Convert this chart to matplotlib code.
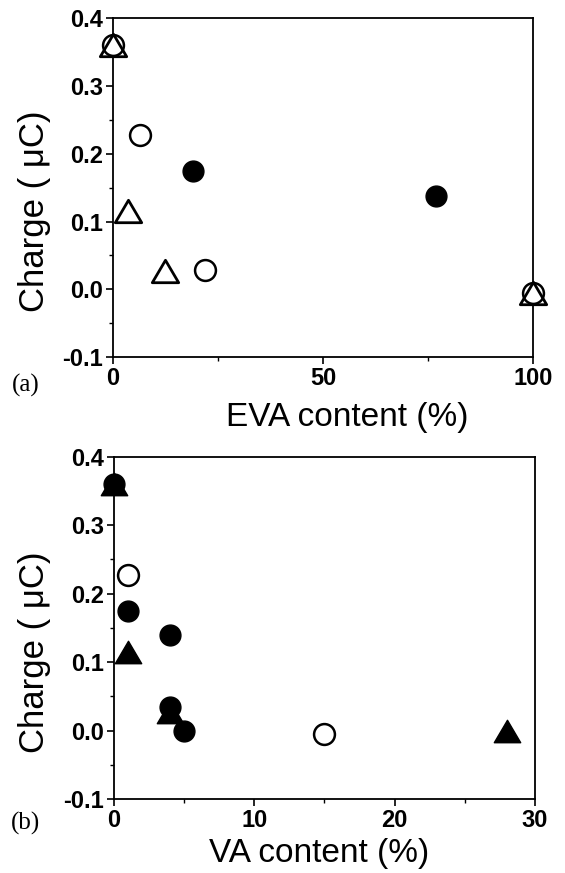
import numpy as np
import matplotlib
matplotlib.use("Agg")
import matplotlib.pyplot as plt
from matplotlib.path import Path
from matplotlib.ticker import MultipleLocator

# panel (a): charge vs EVA content
a_open_circ_x = [0, 6.5, 22, 100]
a_open_circ_y = [0.36, 0.228, 0.028, -0.005]
a_fill_circ_x = [19, 77]
a_fill_circ_y = [0.175, 0.138]
a_open_tri_x = [0, 3.5, 12.5, 100]
a_open_tri_y = [0.36, 0.115, 0.027, -0.005]

# panel (b): charge vs VA content
b_open_circ_x = [1, 15]
b_open_circ_y = [0.227, -0.005]
b_fill_circ_x = [0, 1, 4, 4, 5]
b_fill_circ_y = [0.36, 0.175, 0.14, 0.035, 0.0]
b_fill_tri_x = [0, 1, 4, 28]
b_fill_tri_y = [0.36, 0.115, 0.027, 0.0]

plt.rcParams['font.family'] = ['Liberation Sans', 'DejaVu Sans']

# wide triangle marker
tri = Path([(0, 0.85), (-1, -0.85), (1, -0.85), (0, 0.85)],
           [Path.MOVETO, Path.LINETO, Path.LINETO, Path.CLOSEPOLY])

fig = plt.figure(figsize=(5.65, 8.73), dpi=100)
ax1 = fig.add_axes([0.2, 0.591, 0.743, 0.388])
ax2 = fig.add_axes([0.2018, 0.0848, 0.745, 0.392])

circ_ms = 15
tri_ms = 19

ax1.plot(a_open_tri_x, a_open_tri_y, ls='none', marker=tri, ms=tri_ms,
         mfc='white', mec='black', mew=2.0, clip_on=False, zorder=3)
ax1.plot(a_open_circ_x, a_open_circ_y, ls='none', marker='o', ms=circ_ms,
         mfc='none', mec='black', mew=1.8, clip_on=False, zorder=4)
ax1.plot(a_fill_circ_x, a_fill_circ_y, ls='none', marker='o', ms=circ_ms,
         mfc='black', mec='black', clip_on=False, zorder=4)

ax2.plot(b_fill_tri_x, b_fill_tri_y, ls='none', marker=tri, ms=tri_ms,
         mfc='black', mec='black', clip_on=False, zorder=3)
ax2.plot(b_open_circ_x, b_open_circ_y, ls='none', marker='o', ms=circ_ms,
         mfc='white', mec='black', mew=1.8, clip_on=False, zorder=4)
ax2.plot(b_fill_circ_x, b_fill_circ_y, ls='none', marker='o', ms=circ_ms,
         mfc='black', mec='black', clip_on=False, zorder=4)

ax1.set_xlim(0, 100)
ax1.xaxis.set_major_locator(MultipleLocator(50))
ax1.xaxis.set_minor_locator(MultipleLocator(25))
ax2.set_xlim(0, 30)
ax2.xaxis.set_major_locator(MultipleLocator(10))
ax2.xaxis.set_minor_locator(MultipleLocator(5))

for ax in (ax1, ax2):
    ax.set_ylim(-0.1, 0.4)
    ax.yaxis.set_minor_locator(MultipleLocator(0.05))
    ax.set_yticks([-0.1, 0.0, 0.1, 0.2, 0.3, 0.4])
    ax.set_yticklabels(['-0.1', '0.0', '0.1', '0.2', '0.3', '0.4'])
    for s in ax.spines.values():
        s.set_linewidth(1.3)
    ax.tick_params(which='major', direction='out', length=5, width=1.2,
                   labelsize=17, pad=2)
    ax.tick_params(which='minor', direction='out', length=3, width=1.0)
    for lab in ax.get_xticklabels() + ax.get_yticklabels():
        lab.set_fontweight('bold')
    ax.set_ylabel('Charge ( μC)', fontsize=25)
    ax.yaxis.label.set_va('center')

ax1.set_xlabel('EVA content (%)', fontsize=24)
ax2.set_xlabel('VA content (%)', fontsize=24)
ax1.xaxis.label.set_va('center')
ax2.xaxis.label.set_va('center')
ax1.yaxis.set_label_coords(-0.188, 0.43)
ax2.yaxis.set_label_coords(-0.188, 0.43)
ax1.xaxis.set_label_coords(0.559, -0.177)
ax2.xaxis.set_label_coords(0.488, -0.158)

fig.text(26 / 565, 1 - 385 / 873, '(a)', family=['Liberation Serif', 'DejaVu Serif'],
         fontsize=18, ha='center', va='center')
fig.text(26 / 565, 1 - 823 / 873, '(b)', family=['Liberation Serif', 'DejaVu Serif'],
         fontsize=18, ha='center', va='center')

fig.savefig('out.png', dpi=100)
